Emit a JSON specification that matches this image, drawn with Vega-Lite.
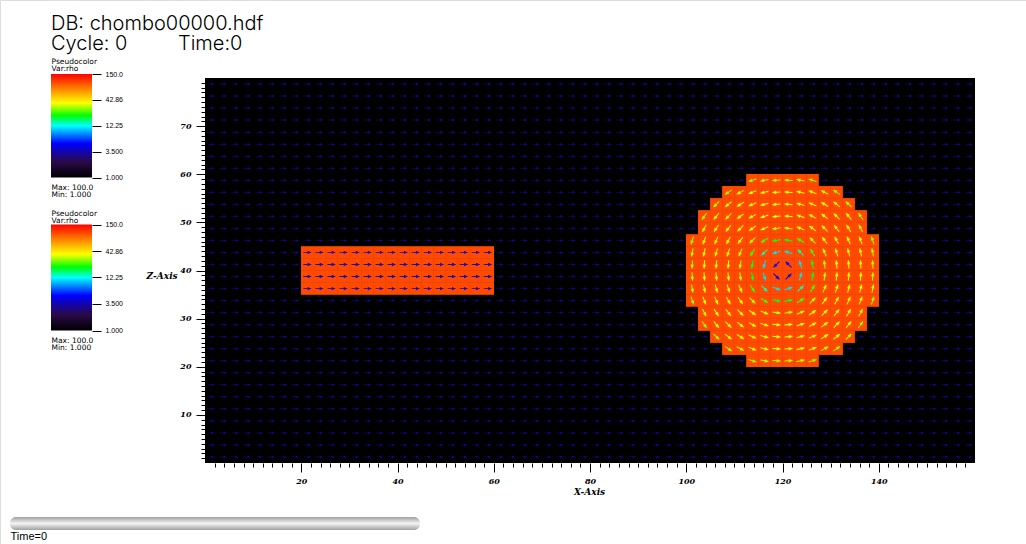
{"$schema":"https://vega.github.io/schema/vega-lite/v6.json","width":1026,"height":544,"padding":0,"autosize":{"type":"none"},"background":"white",
"title":{"text":"DB: chombo00000.hdf","subtitle":"Cycle: 0\u00a0\u00a0\u00a0\u00a0\u00a0\u00a0\u00a0\u00a0\u00a0Time:0","anchor":"start","frame":"group","dx":51,"offset":-54,"font":"Inter","fontWeight":300,"fontSize":20,"color":"black","subtitleFont":"Inter","subtitleFontWeight":300,"subtitleFontSize":20,"subtitleColor":"black","subtitlePadding":0},
"datasets":{
"field":[{"x":0,"x2":160,"y":0,"y2":80,"v":1}],
"bgArrows":[{"v":3.3,"xs":[1.25,3.75,6.25,8.75,11.25,13.75,16.25,18.75,21.25,23.75,26.25,28.75,31.25,33.75,36.25,38.75,41.25,43.75,46.25,48.75,51.25,53.75,56.25,58.75,61.25,63.75,66.25,68.75,71.25,73.75,76.25,78.75,81.25,83.75,86.25,88.75,91.25,93.75,96.25,98.75,101.25,103.75,106.25,108.75,111.25,113.75,116.25,118.75,121.25,123.75,126.25,128.75,131.25,133.75,136.25,138.75,141.25,143.75,146.25,148.75,151.25,153.75,156.25,158.75],"ys":[1.25,3.75,6.25,8.75,11.25,13.75,16.25,18.75,21.25,23.75,26.25,28.75,31.25,33.75,36.25,38.75,41.25,43.75,46.25,48.75,51.25,53.75,56.25,58.75,61.25,63.75,66.25,68.75,71.25,73.75,76.25,78.75]}],
"cells":[
{"v":100,"ys":[36.25,38.75,41.25,43.75],"xs":[21.25,23.75,26.25,28.75,31.25,33.75,36.25,38.75,41.25,43.75,46.25,48.75,51.25,53.75,56.25,58.75]},
{"v":100,"ys":[58.75,21.25],"xs":[113.75,116.25,118.75,121.25,123.75,126.25]},
{"v":100,"ys":[56.25,23.75],"xs":[108.75,111.25,113.75,116.25,118.75,121.25,123.75,126.25,128.75,131.25]},
{"v":100,"ys":[53.75,26.25],"xs":[106.25,108.75,111.25,113.75,116.25,118.75,121.25,123.75,126.25,128.75,131.25,133.75]},
{"v":100,"ys":[51.25,48.75,31.25,28.75],"xs":[103.75,106.25,108.75,111.25,113.75,116.25,118.75,121.25,123.75,126.25,128.75,131.25,133.75,136.25]},
{"v":100,"ys":[46.25,43.75,41.25,38.75,36.25,33.75],"xs":[101.25,103.75,106.25,108.75,111.25,113.75,116.25,118.75,121.25,123.75,126.25,128.75,131.25,133.75,136.25,138.75]}],
"jetArrows":[{"v":3.8,"ys":[36.25,38.75,41.25,43.75],"xs":[21.25,23.75,26.25,28.75,31.25,33.75,36.25,38.75,41.25,43.75,46.25,48.75,51.25,53.75,56.25,58.75]}],
"vortex":[
{"x":113.75,"y":58.75,"a":162,"v":28},{"x":116.25,"y":58.75,"a":169,"v":30},{"x":118.75,"y":58.75,"a":176,"v":30},{"x":121.25,"y":58.75,"a":184,"v":30},{"x":123.75,"y":58.75,"a":191,"v":30},{"x":126.25,"y":58.75,"a":198,"v":28},
{"x":113.75,"y":21.25,"a":18,"v":28},{"x":116.25,"y":21.25,"a":11,"v":30},{"x":118.75,"y":21.25,"a":4,"v":30},{"x":121.25,"y":21.25,"a":-4,"v":30},{"x":123.75,"y":21.25,"a":-11,"v":30},{"x":126.25,"y":21.25,"a":-18,"v":28},
{"x":108.75,"y":56.25,"a":145,"v":28},{"x":111.25,"y":56.25,"a":152,"v":31},{"x":113.75,"y":56.25,"a":159,"v":34},{"x":116.25,"y":56.25,"a":167,"v":35},{"x":118.75,"y":56.25,"a":176,"v":36},{"x":121.25,"y":56.25,"a":184,"v":36},{"x":123.75,"y":56.25,"a":193,"v":35},{"x":126.25,"y":56.25,"a":201,"v":34},{"x":128.75,"y":56.25,"a":208,"v":31},{"x":131.25,"y":56.25,"a":215,"v":28},
{"x":108.75,"y":23.75,"a":35,"v":28},{"x":111.25,"y":23.75,"a":28,"v":31},{"x":113.75,"y":23.75,"a":21,"v":34},{"x":116.25,"y":23.75,"a":13,"v":35},{"x":118.75,"y":23.75,"a":4,"v":36},{"x":121.25,"y":23.75,"a":-4,"v":36},{"x":123.75,"y":23.75,"a":-13,"v":35},{"x":126.25,"y":23.75,"a":-21,"v":34},{"x":128.75,"y":23.75,"a":-28,"v":31},{"x":131.25,"y":23.75,"a":-35,"v":28},
{"x":106.25,"y":53.75,"a":135,"v":29},{"x":108.75,"y":53.75,"a":141,"v":33},{"x":111.25,"y":53.75,"a":148,"v":36},{"x":113.75,"y":53.75,"a":156,"v":38},{"x":116.25,"y":53.75,"a":165,"v":38},{"x":118.75,"y":53.75,"a":175,"v":38},{"x":121.25,"y":53.75,"a":185,"v":38},{"x":123.75,"y":53.75,"a":195,"v":38},{"x":126.25,"y":53.75,"a":204,"v":38},{"x":128.75,"y":53.75,"a":212,"v":36},{"x":131.25,"y":53.75,"a":219,"v":33},{"x":133.75,"y":53.75,"a":225,"v":29},
{"x":106.25,"y":26.25,"a":45,"v":29},{"x":108.75,"y":26.25,"a":39,"v":33},{"x":111.25,"y":26.25,"a":32,"v":36},{"x":113.75,"y":26.25,"a":24,"v":38},{"x":116.25,"y":26.25,"a":15,"v":38},{"x":118.75,"y":26.25,"a":5,"v":38},{"x":121.25,"y":26.25,"a":-5,"v":38},{"x":123.75,"y":26.25,"a":-15,"v":38},{"x":126.25,"y":26.25,"a":-24,"v":38},{"x":128.75,"y":26.25,"a":-32,"v":36},{"x":131.25,"y":26.25,"a":-39,"v":33},{"x":133.75,"y":26.25,"a":-45,"v":29},
{"x":103.75,"y":51.25,"a":125,"v":28},{"x":106.25,"y":51.25,"a":129,"v":33},{"x":108.75,"y":51.25,"a":135,"v":38},{"x":111.25,"y":51.25,"a":142,"v":38},{"x":113.75,"y":51.25,"a":151,"v":38},{"x":116.25,"y":51.25,"a":162,"v":38},{"x":118.75,"y":51.25,"a":174,"v":37},{"x":121.25,"y":51.25,"a":186,"v":37},{"x":123.75,"y":51.25,"a":198,"v":38},{"x":126.25,"y":51.25,"a":209,"v":38},{"x":128.75,"y":51.25,"a":218,"v":38},{"x":131.25,"y":51.25,"a":225,"v":38},{"x":133.75,"y":51.25,"a":231,"v":33},{"x":136.25,"y":51.25,"a":235,"v":28},
{"x":103.75,"y":28.75,"a":55,"v":28},{"x":106.25,"y":28.75,"a":51,"v":33},{"x":108.75,"y":28.75,"a":45,"v":38},{"x":111.25,"y":28.75,"a":38,"v":38},{"x":113.75,"y":28.75,"a":29,"v":38},{"x":116.25,"y":28.75,"a":18,"v":38},{"x":118.75,"y":28.75,"a":6,"v":37},{"x":121.25,"y":28.75,"a":-6,"v":37},{"x":123.75,"y":28.75,"a":-18,"v":38},{"x":126.25,"y":28.75,"a":-29,"v":38},{"x":128.75,"y":28.75,"a":-38,"v":38},{"x":131.25,"y":28.75,"a":-45,"v":38},{"x":133.75,"y":28.75,"a":-51,"v":33},{"x":136.25,"y":28.75,"a":-55,"v":28},
{"x":103.75,"y":48.75,"a":118,"v":31},{"x":106.25,"y":48.75,"a":123,"v":36},{"x":108.75,"y":48.75,"a":128,"v":38},{"x":111.25,"y":48.75,"a":135,"v":38},{"x":113.75,"y":48.75,"a":145,"v":37},{"x":116.25,"y":48.75,"a":157,"v":32},{"x":118.75,"y":48.75,"a":172,"v":30},{"x":121.25,"y":48.75,"a":188,"v":30},{"x":123.75,"y":48.75,"a":203,"v":32},{"x":126.25,"y":48.75,"a":216,"v":37},{"x":128.75,"y":48.75,"a":225,"v":38},{"x":131.25,"y":48.75,"a":232,"v":38},{"x":133.75,"y":48.75,"a":238,"v":36},{"x":136.25,"y":48.75,"a":242,"v":31},
{"x":103.75,"y":31.25,"a":62,"v":31},{"x":106.25,"y":31.25,"a":58,"v":36},{"x":108.75,"y":31.25,"a":52,"v":38},{"x":111.25,"y":31.25,"a":45,"v":38},{"x":113.75,"y":31.25,"a":35,"v":37},{"x":116.25,"y":31.25,"a":23,"v":32},{"x":118.75,"y":31.25,"a":8,"v":30},{"x":121.25,"y":31.25,"a":-8,"v":30},{"x":123.75,"y":31.25,"a":-23,"v":32},{"x":126.25,"y":31.25,"a":-35,"v":37},{"x":128.75,"y":31.25,"a":-45,"v":38},{"x":131.25,"y":31.25,"a":-52,"v":38},{"x":133.75,"y":31.25,"a":-58,"v":36},{"x":136.25,"y":31.25,"a":-62,"v":31},
{"x":101.25,"y":46.25,"a":108,"v":28},{"x":103.75,"y":46.25,"a":111,"v":34},{"x":106.25,"y":46.25,"a":114,"v":38},{"x":108.75,"y":46.25,"a":119,"v":38},{"x":111.25,"y":46.25,"a":126,"v":37},{"x":113.75,"y":46.25,"a":135,"v":30},{"x":116.25,"y":46.25,"a":149,"v":23},{"x":118.75,"y":46.25,"a":169,"v":19},{"x":121.25,"y":46.25,"a":191,"v":19},{"x":123.75,"y":46.25,"a":211,"v":23},{"x":126.25,"y":46.25,"a":225,"v":30},{"x":128.75,"y":46.25,"a":235,"v":37},{"x":131.25,"y":46.25,"a":241,"v":38},{"x":133.75,"y":46.25,"a":246,"v":38},{"x":136.25,"y":46.25,"a":249,"v":34},{"x":138.75,"y":46.25,"a":252,"v":28},
{"x":101.25,"y":33.75,"a":72,"v":28},{"x":103.75,"y":33.75,"a":69,"v":34},{"x":106.25,"y":33.75,"a":66,"v":38},{"x":108.75,"y":33.75,"a":61,"v":38},{"x":111.25,"y":33.75,"a":55,"v":37},{"x":113.75,"y":33.75,"a":45,"v":30},{"x":116.25,"y":33.75,"a":31,"v":23},{"x":118.75,"y":33.75,"a":11,"v":19},{"x":121.25,"y":33.75,"a":-11,"v":19},{"x":123.75,"y":33.75,"a":-31,"v":23},{"x":126.25,"y":33.75,"a":-45,"v":30},{"x":128.75,"y":33.75,"a":-55,"v":37},{"x":131.25,"y":33.75,"a":-61,"v":38},{"x":133.75,"y":33.75,"a":-66,"v":38},{"x":136.25,"y":33.75,"a":-69,"v":34},{"x":138.75,"y":33.75,"a":-72,"v":28},
{"x":101.25,"y":43.75,"a":101,"v":30},{"x":103.75,"y":43.75,"a":103,"v":35},{"x":106.25,"y":43.75,"a":105,"v":38},{"x":108.75,"y":43.75,"a":108,"v":38},{"x":111.25,"y":43.75,"a":113,"v":32},{"x":113.75,"y":43.75,"a":121,"v":23},{"x":116.25,"y":43.75,"a":135,"v":14},{"x":118.75,"y":43.75,"a":162,"v":11},{"x":121.25,"y":43.75,"a":198,"v":11},{"x":123.75,"y":43.75,"a":225,"v":14},{"x":126.25,"y":43.75,"a":239,"v":23},{"x":128.75,"y":43.75,"a":247,"v":32},{"x":131.25,"y":43.75,"a":252,"v":38},{"x":133.75,"y":43.75,"a":255,"v":38},{"x":136.25,"y":43.75,"a":257,"v":35},{"x":138.75,"y":43.75,"a":259,"v":30},
{"x":101.25,"y":36.25,"a":79,"v":30},{"x":103.75,"y":36.25,"a":77,"v":35},{"x":106.25,"y":36.25,"a":75,"v":38},{"x":108.75,"y":36.25,"a":72,"v":38},{"x":111.25,"y":36.25,"a":67,"v":32},{"x":113.75,"y":36.25,"a":59,"v":23},{"x":116.25,"y":36.25,"a":45,"v":14},{"x":118.75,"y":36.25,"a":18,"v":11},{"x":121.25,"y":36.25,"a":-18,"v":11},{"x":123.75,"y":36.25,"a":-45,"v":14},{"x":126.25,"y":36.25,"a":-59,"v":23},{"x":128.75,"y":36.25,"a":-67,"v":32},{"x":131.25,"y":36.25,"a":-72,"v":38},{"x":133.75,"y":36.25,"a":-75,"v":38},{"x":136.25,"y":36.25,"a":-77,"v":35},{"x":138.75,"y":36.25,"a":-79,"v":30},
{"x":101.25,"y":41.25,"a":94,"v":30},{"x":103.75,"y":41.25,"a":94,"v":36},{"x":106.25,"y":41.25,"a":95,"v":38},{"x":108.75,"y":41.25,"a":96,"v":37},{"x":111.25,"y":41.25,"a":98,"v":30},{"x":113.75,"y":41.25,"a":101,"v":19},{"x":116.25,"y":41.25,"a":108,"v":11},{"x":118.75,"y":41.25,"a":135,"v":5},{"x":121.25,"y":41.25,"a":225,"v":5},{"x":123.75,"y":41.25,"a":252,"v":11},{"x":126.25,"y":41.25,"a":259,"v":19},{"x":128.75,"y":41.25,"a":262,"v":30},{"x":131.25,"y":41.25,"a":264,"v":37},{"x":133.75,"y":41.25,"a":265,"v":38},{"x":136.25,"y":41.25,"a":266,"v":36},{"x":138.75,"y":41.25,"a":266,"v":30},
{"x":101.25,"y":38.75,"a":86,"v":30},{"x":103.75,"y":38.75,"a":86,"v":36},{"x":106.25,"y":38.75,"a":85,"v":38},{"x":108.75,"y":38.75,"a":84,"v":37},{"x":111.25,"y":38.75,"a":82,"v":30},{"x":113.75,"y":38.75,"a":79,"v":19},{"x":116.25,"y":38.75,"a":72,"v":11},{"x":118.75,"y":38.75,"a":45,"v":5},{"x":121.25,"y":38.75,"a":-45,"v":5},{"x":123.75,"y":38.75,"a":-72,"v":11},{"x":126.25,"y":38.75,"a":-79,"v":19},{"x":128.75,"y":38.75,"a":-82,"v":30},{"x":131.25,"y":38.75,"a":-84,"v":37},{"x":133.75,"y":38.75,"a":-85,"v":38},{"x":136.25,"y":38.75,"a":-86,"v":36},{"x":138.75,"y":38.75,"a":-86,"v":30}
],
"bar":[{"v0":1,"v1":150,"c0":0,"c1":1}],
"slider":[{"t0":0,"t1":1,"p0":0,"p1":1}],
"anchor":[{"x":0,"y":0}]
},
"resolve":{"scale":{"x":"independent","y":"independent"},"axis":{"x":"independent","y":"independent"}},
"layer":[
{"layer":[
{"data":{"name":"field"},"mark":{"type":"rect"},"encoding":{
"x":{"field":"x","type":"quantitative","scale":{"domain":[0,160],"range":[205,975]},"axis":null},
"x2":{"field":"x2"},
"y":{"field":"y","type":"quantitative","scale":{"domain":[0,80],"range":[463,78]},"axis":null},
"y2":{"field":"y2"},
"color":{"field":"v","type":"quantitative","legend":null,"scale":{"type":"log","interpolate":"rgb","domain":[1,2.12,5.2,12.25,20.1,36.9,150],"range":["#000000","#2a0a48","#0000ff","#00ffff","#00ff00","#ffff00","#ff0000"]}}}},
{"data":{"name":"bgArrows"},"transform":[{"flatten":["xs"],"as":["x"]},{"flatten":["ys"],"as":["y"]}],"mark":{"type":"point","shape":"M-1,-.07L.1,-.07L.1,-.35L.8,-.07L1,-.07L1,.07L.8,.07L.1,.35L.1,.07L-1,.07Z","filled":true,"opacity":1,"size":52,"strokeWidth":0},"encoding":{"x":{"field":"x","type":"quantitative","axis":null},"y":{"field":"y","type":"quantitative","axis":null},"color":{"field":"v","type":"quantitative","legend":null}}},
{"data":{"name":"cells"},"transform":[{"flatten":["xs"],"as":["x"]},{"flatten":["ys"],"as":["y"]}],"mark":{"type":"rect","width":12.5,"height":12.5},"encoding":{"x":{"field":"x","type":"quantitative","axis":null},"y":{"field":"y","type":"quantitative","axis":null},"color":{"field":"v","type":"quantitative","legend":null}}},
{"data":{"name":"jetArrows"},"transform":[{"flatten":["xs"],"as":["x"]},{"flatten":["ys"],"as":["y"]}],"mark":{"type":"point","shape":"M-1,-.1L.1,-.1L.1,-.42L.8,-.1L1,-.1L1,.1L.8,.1L.1,.42L.1,.1L-1,.1Z","filled":true,"opacity":1,"size":62,"strokeWidth":0},"encoding":{"x":{"field":"x","type":"quantitative","axis":null},"y":{"field":"y","type":"quantitative","axis":null},"color":{"field":"v","type":"quantitative","legend":null}}},
{"data":{"name":"vortex"},"mark":{"type":"point","shape":"M-1,-.13L.05,-.13L.05,-.42L.85,-.13L1,-.13L1,.13L.85,.13L.05,.42L.05,.13L-1,.13Z","filled":true,"opacity":1,"size":68,"strokeWidth":0},"encoding":{"x":{"field":"x","type":"quantitative","axis":null},"y":{"field":"y","type":"quantitative","axis":null},"angle":{"field":"a","type":"quantitative","scale":null},"color":{"field":"v","type":"quantitative","legend":null}}}
]},
{"data":{"name":"anchor"},"mark":{"type":"point","opacity":0},"encoding":{
"x":{"field":"x","type":"quantitative","scale":{"domain":[0,160],"range":[205,975]},"axis":{"values":[20,40,60,80,100,120,140],"format":"d","orient":"bottom","offset":-81,"domain":false,"grid":false,"tickSize":9,"tickColor":"black","tickWidth":1,"labelFont":"DejaVu Serif","labelFontStyle":"italic","labelFontWeight":"bold","labelFontSize":8,"labelColor":"black","labelPadding":5,"title":"X-Axis","titleX":589,"titleY":31,"titleAngle":0,"titleFont":"DejaVu Serif","titleFontStyle":"italic","titleFontWeight":"bold","titleFontSize":9,"titleColor":"black","titleAlign":"center","titleBaseline":"alphabetic"}},
"y":{"field":"y","type":"quantitative","scale":{"domain":[0,80],"range":[463,78]},"axis":{"values":[10,20,30,40,50,60,70],"format":"d","orient":"left","offset":-205,"domain":false,"grid":false,"tickSize":9,"tickColor":"black","tickWidth":1,"labelFont":"DejaVu Serif","labelFontStyle":"italic","labelFontWeight":"bold","labelFontSize":8,"labelColor":"black","labelPadding":5,"title":"Z-Axis","titleX":-59,"titleY":278,"titleAngle":0,"titleFont":"DejaVu Serif","titleFontStyle":"italic","titleFontWeight":"bold","titleFontSize":9,"titleColor":"black","titleAlign":"left","titleBaseline":"alphabetic"}}}},
{"data":{"name":"anchor"},"mark":{"type":"point","opacity":0},"encoding":{
"x":{"field":"x","type":"quantitative","scale":{"domain":[0,160],"range":[205,975]},"axis":{"values":[2,4,6,8,10,12,14,16,18,22,24,26,28,30,32,34,36,38,42,44,46,48,50,52,54,56,58,62,64,66,68,70,72,74,76,78,82,84,86,88,90,92,94,96,98,102,104,106,108,110,112,114,116,118,122,124,126,128,130,132,134,136,138,142,144,146,148,150,152,154,156,158],"orient":"bottom","offset":-81,"domain":false,"grid":false,"labels":false,"title":null,"tickSize":4,"tickColor":"black","tickWidth":1}},
"y":{"field":"y","type":"quantitative","scale":{"domain":[0,80],"range":[463,78]},"axis":{"values":[1,2,3,4,5,6,7,8,9,11,12,13,14,15,16,17,18,19,21,22,23,24,25,26,27,28,29,31,32,33,34,35,36,37,38,39,41,42,43,44,45,46,47,48,49,51,52,53,54,55,56,57,58,59,61,62,63,64,65,66,67,68,69,71,72,73,74,75,76,77,78,79],"orient":"left","offset":-205,"domain":false,"grid":false,"labels":false,"title":null,"tickSize":4,"tickColor":"black","tickWidth":1}}}},
{"data":{"name":"bar"},"mark":{"type":"rect","color":{"gradient":"linear","x1":0,"y1":1,"x2":0,"y2":0,"stops":[{"offset":0,"color":"#000000"},{"offset":0.15,"color":"#2a0a48"},{"offset":0.33,"color":"#0000ff"},{"offset":0.5,"color":"#00ffff"},{"offset":0.6,"color":"#00ff00"},{"offset":0.72,"color":"#ffff00"},{"offset":1,"color":"#ff0000"}]}},"encoding":{
"x":{"field":"c0","type":"quantitative","scale":{"domain":[0,1],"range":[51,92]},"axis":{"orient":"bottom","offset":0,"domain":false,"ticks":false,"labels":false,"grid":false,"title":["Max: 100.0","Min: 1.000"],"titleX":51,"titleY":-355,"titleAlign":"left","titleBaseline":"alphabetic","titleFont":"DejaVu Sans","titleFontWeight":"normal","titleFontSize":7.5,"titleLineHeight":7,"titleColor":"black"}},
"x2":{"field":"c1"},
"y":{"field":"v0","type":"quantitative","scale":{"type":"log","domain":[1,150],"range":[177.5,74]},"axis":{"values":[1,3.5,12.25,42.86,150],"format":".4r","orient":"right","offset":-934,"domain":false,"grid":false,"tickSize":9,"tickColor":"black","tickWidth":1,"labelFont":"Liberation Sans","labelFontSize":7,"labelColor":"black","labelPadding":4,"title":["Pseudocolor","Var:rho"],"titleX":-41,"titleY":63,"titleAngle":0,"titleAlign":"left","titleBaseline":"alphabetic","titleFont":"DejaVu Sans","titleFontWeight":"normal","titleFontSize":7.5,"titleLineHeight":7,"titleColor":"black"}},
"y2":{"field":"v1"}}},
{"data":{"name":"bar"},"mark":{"type":"rect","color":{"gradient":"linear","x1":0,"y1":1,"x2":0,"y2":0,"stops":[{"offset":0,"color":"#000000"},{"offset":0.15,"color":"#2a0a48"},{"offset":0.33,"color":"#0000ff"},{"offset":0.5,"color":"#00ffff"},{"offset":0.6,"color":"#00ff00"},{"offset":0.72,"color":"#ffff00"},{"offset":1,"color":"#ff0000"}]}},"encoding":{
"x":{"field":"c0","type":"quantitative","scale":{"domain":[0,1],"range":[51,92]},"axis":{"orient":"bottom","offset":0,"domain":false,"ticks":false,"labels":false,"grid":false,"title":["Max: 100.0","Min: 1.000"],"titleX":51,"titleY":-202,"titleAlign":"left","titleBaseline":"alphabetic","titleFont":"DejaVu Sans","titleFontWeight":"normal","titleFontSize":7.5,"titleLineHeight":7,"titleColor":"black"}},
"x2":{"field":"c1"},
"y":{"field":"v0","type":"quantitative","scale":{"type":"log","domain":[1,150],"range":[330.5,224.5]},"axis":{"values":[1,3.5,12.25,42.86,150],"format":".4r","orient":"right","offset":-934,"domain":false,"grid":false,"tickSize":9,"tickColor":"black","tickWidth":1,"labelFont":"Liberation Sans","labelFontSize":7,"labelColor":"black","labelPadding":4,"title":["Pseudocolor","Var:rho"],"titleX":-41,"titleY":215,"titleAngle":0,"titleAlign":"left","titleBaseline":"alphabetic","titleFont":"DejaVu Sans","titleFontWeight":"normal","titleFontSize":7.5,"titleLineHeight":7,"titleColor":"black"}},
"y2":{"field":"v1"}}},
{"data":{"name":"slider"},"mark":{"type":"rect","cornerRadius":6,"color":{"gradient":"linear","x1":0,"y1":0,"x2":0,"y2":1,"stops":[{"offset":0,"color":"#a0a0a0"},{"offset":0.5,"color":"#f4f4f4"},{"offset":1,"color":"#a0a0a0"}]}},"encoding":{
"x":{"field":"t0","type":"quantitative","scale":{"domain":[0,1],"range":[10,420]},"axis":{"orient":"bottom","offset":0,"domain":false,"ticks":false,"labels":false,"grid":false,"title":"Time=0","titleX":10,"titleY":-5,"titleAlign":"left","titleBaseline":"alphabetic","titleFont":"Liberation Sans","titleFontWeight":"normal","titleFontSize":11,"titleColor":"black"}},
"x2":{"field":"t1"},
"y":{"field":"p0","type":"quantitative","scale":{"domain":[0,1],"range":[530,517]},"axis":null},
"y2":{"field":"p1"}}}
]}
